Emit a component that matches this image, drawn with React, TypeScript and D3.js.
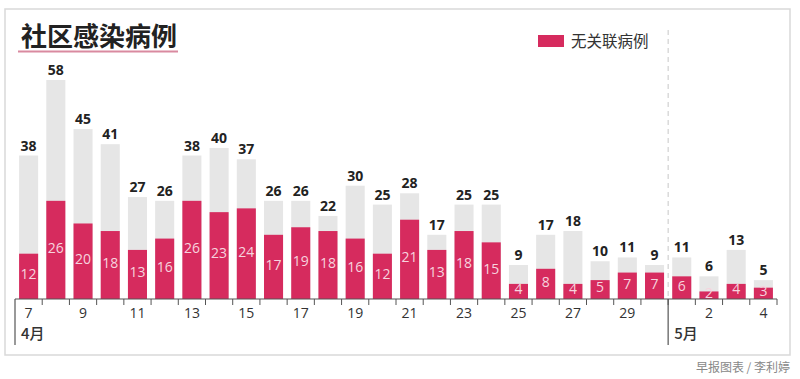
import React from "react";
import * as d3 from "d3";

const dates = [
  "4-7","4-8","4-9","4-10","4-11","4-12","4-13","4-14","4-15","4-16","4-17","4-18","4-19","4-20",
  "4-21","4-22","4-23","4-24","4-25","4-26","4-27","4-28","4-29","4-30","5-1","5-2","5-3","5-4",
];
const totals = [38,58,45,41,27,26,38,40,37,26,26,22,30,25,28,17,25,25,9,17,18,10,11,9,11,6,13,5];
const unlinked = [12,26,20,18,13,16,26,23,24,17,19,18,16,12,21,13,18,15,4,8,4,5,7,7,6,2,4,3];
const dayLabels = ["4-7","4-9","4-11","4-13","4-15","4-17","4-19","4-21","4-23","4-25","4-27","4-29","5-2","5-4"];
const monthLabels = [{ start: "4-7", text: "4月" }, { start: "5-1", text: "5月" }];

const W = 800, H = 379;
const PINK = "#d62b5e";
const GRAY = "#e6e6e6";
const CJK = "'Noto Sans CJK SC', 'Noto Sans', sans-serif";
const NUM = "'Open Sans', 'Noto Sans', sans-serif";

export default function App() {
  const x = d3.scaleBand<string>().domain(dates).range([15, 777]).paddingInner(0.3).paddingOuter(0.15);
  const y = d3.scaleLinear().domain([0, 58]).range([299, 80]);
  const step = x.step();
  const left = 15;
  const boundary = (i: number) => left + i * step;
  const bw = x.bandwidth();
  const base = y(0);

  return (
    <svg width={W} height={H} style={{ position: "absolute", left: 0, top: 0, background: "#fff" }}>
      <rect x={5} y={9} width={785} height={346} fill="#fff" stroke="#d9d9d9" strokeWidth={1.5} />
      <text x={21} y={46} fontFamily={CJK} fontWeight={700} fontSize={26} fill="#222">社区感染病例</text>
      <line x1={18} x2={178} y1={51.5} y2={51.5} stroke="#d98aa0" strokeWidth={2} />

      <rect x={538} y={35} width={26} height={12} fill={PINK} />
      <text x={571} y={47} fontFamily={CJK} fontSize={15.5} fill="#333">无关联病例</text>

      {dates.map((d, i) => {
        const bx = x(d)!;
        const cx = bx + bw / 2;
        const pinkTop = y(unlinked[i]);
        return (
          <g key={d}>
            <rect x={bx} y={y(totals[i])} width={bw} height={base - y(totals[i])} fill={GRAY} />
            <rect x={bx} y={pinkTop} width={bw} height={base - pinkTop} fill={PINK} />
            <text x={cx} y={y(totals[i]) - 5} textAnchor="middle" fontFamily={NUM} fontWeight={700} fontSize={14} fill="#222">{totals[i]}</text>
            <text x={cx} y={(pinkTop + base) / 2 - 2} dy="0.35em" textAnchor="middle" fontFamily={NUM} fontSize={14} fill="#f6d4de">{unlinked[i]}</text>
          </g>
        );
      })}

      <line x1={left} x2={777} y1={base} y2={base} stroke="#555" strokeWidth={1.2} />
      {d3.range(1, dates.length + 1).map((i) => (
        <line key={i} x1={boundary(i)} x2={boundary(i)} y1={base} y2={base + 6} stroke="#555" strokeWidth={1} />
      ))}

      <line x1={boundary(24)} x2={boundary(24)} y1={30} y2={base} stroke="#c8c8c8" strokeWidth={1} strokeDasharray="5,4" />

      {monthLabels.map((m) => {
        const bx = boundary(dates.indexOf(m.start));
        return (
          <g key={m.text}>
            <line x1={bx} x2={bx} y1={base} y2={345} stroke="#555" strokeWidth={1.2} />
            <text x={bx + 6} y={339} fontFamily={CJK} fontWeight={500} fontSize={15} fill="#333">{m.text}</text>
          </g>
        );
      })}

      {dayLabels.map((d) => (
        <text key={d} x={x(d)! + bw / 2} y={318} textAnchor="middle" fontFamily={NUM} fontSize={14} fill="#333">{d.split("-")[1]}</text>
      ))}

      <text x={790} y={372} textAnchor="end" fontFamily={CJK} fontSize={12} fill="#888">早报图表 / 李利婷</text>
    </svg>
  );
}
